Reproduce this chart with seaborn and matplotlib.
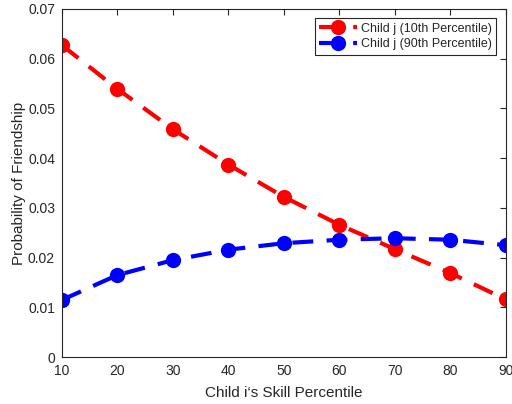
import matplotlib
matplotlib.use("Agg")
import matplotlib.pyplot as plt
import numpy as np
import pandas as pd
import seaborn as sns

# Data
percentiles = [10, 20, 30, 40, 50, 60, 70, 80, 90]
prob_10th = [0.0627, 0.0539, 0.0458, 0.0387, 0.0322, 0.0266, 0.0217, 0.0169, 0.0116]
prob_90th = [0.0115, 0.0165, 0.0195, 0.0216, 0.0229, 0.0236, 0.0239, 0.0236, 0.0225]
series_names = ["Child j (10th Percentile)", "Child j (90th Percentile)"]

df = pd.DataFrame({
    "x": percentiles * 2,
    "y": prob_10th + prob_90th,
    "series": [series_names[0]] * len(percentiles) + [series_names[1]] * len(percentiles),
})

sns.set_style("white")
plt.rcParams["font.family"] = ["Liberation Sans", "DejaVu Sans"]

fig = plt.figure(figsize=(5.12, 4.04), dpi=100)
ax = fig.add_axes([0.121, 0.116, 0.867, 0.862])

sns.lineplot(data=df, x="x", y="y", hue="series",
             palette={series_names[0]: "#ff0000", series_names[1]: "#0000ff"},
             marker="o", markersize=11, markeredgewidth=0, linewidth=3.0,
             ax=ax, legend=True)
for line in ax.lines:
    line.set_dashes((5, 3.2))

ax.set_xlim(10, 90)
ax.set_ylim(0, 0.07)
ax.set_xticks(np.arange(10, 91, 10))
ax.set_yticks(np.arange(0, 0.071, 0.01))
ax.set_yticklabels(["0"] + ["%.2f" % v for v in np.arange(0.01, 0.071, 0.01)])
ax.tick_params(direction="in", length=4, width=0.8, top=True, right=True,
               labelsize=10, colors="#262626", pad=5)
for s in ax.spines.values():
    s.set_color("#262626")
    s.set_linewidth(0.8)

ax.set_xlabel("Child i\u2018s Skill Percentile", fontsize=11, color="#262626", labelpad=6)
ax.set_ylabel("Probability of Friendship", fontsize=11, color="#262626", labelpad=1)

leg = ax.legend(loc="upper right", fontsize=9, frameon=True, fancybox=False,
                edgecolor="#262626", framealpha=1, borderaxespad=0.75,
                handlelength=3.0, handletextpad=0.35, borderpad=0.35,
                labelspacing=0.3)
leg.get_frame().set_linewidth(0.8)
for h in leg.get_lines():
    h.set_dashes((5, 3.2))

fig.savefig("out.png", dpi=100)
